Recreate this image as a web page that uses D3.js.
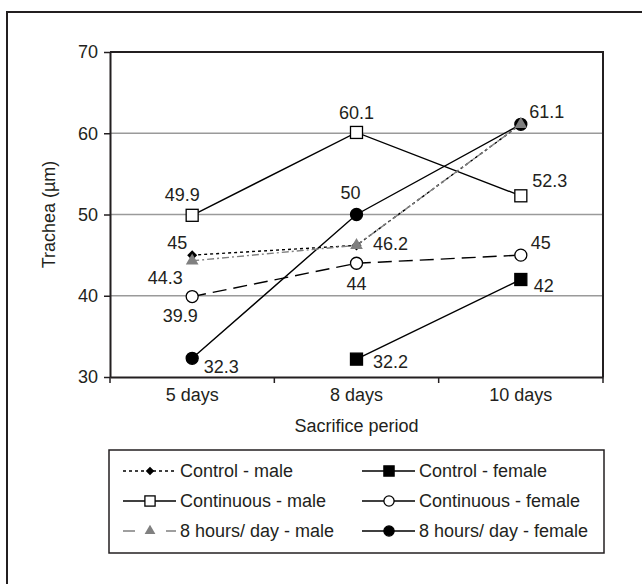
<!DOCTYPE html>
<html>
<head>
<meta charset="utf-8">
<script src="https://cdn.jsdelivr.net/npm/d3@7"></script>
<style>
  body { margin: 0; background: #fff; }
  svg { display: block; font-family: "Liberation Sans", Arial, sans-serif; }
</style>
</head>
<body>
<svg id="chart" width="642" height="584"></svg>
<script>

var categories = ['5 days', '8 days', '10 days']
var yTicks = [30, 40, 50, 60, 70]

var controlMale = [45, 46.2, 61.1]
var controlFemale = [null, 32.2, 42]
var continuousMale = [49.9, 60.1, 52.3]
var continuousFemale = [39.9, 44, 45]
var hoursMale = [44.3, 46.2, 61.1]
var hoursFemale = [32.3, 50, 61.1]

var fontSize = 18

// label offsets (dx, dy) per point
var series = [
    {name: 'Control - male', values: controlMale, marker: 'diamond', fill: '#000', stroke: '#000', dash: '3,3', legendDash: '3,3', col: 0, row: 0,
     labels: [[-15, -12], null, null]},
    {name: 'Control - female', values: controlFemale, marker: 'square', fill: '#000', stroke: '#000', dash: null, legendDash: null, col: 1, row: 0,
     labels: [null, [34, 3], [23, 6]]},
    {name: 'Continuous - male', values: continuousMale, marker: 'square', fill: '#fff', stroke: '#000', dash: null, legendDash: null, col: 0, row: 1,
     labels: [[-10, -21], [0, -20], [29, -15]]},
    {name: 'Continuous - female', values: continuousFemale, marker: 'circle', fill: '#fff', stroke: '#000', dash: '14,7', legendDash: null, col: 1, row: 1,
     labels: [[-12, 19], [0, 20], [20, -12]]},
    {name: '8 hours/ day - male', values: hoursMale, marker: 'triangle', fill: '#808080', stroke: '#808080', dash: '7,3,2,3', legendDash: '12,31,10', col: 0, row: 2,
     labels: [[-27, 17], [34, -2], null]},
    {name: '8 hours/ day - female', values: hoursFemale, marker: 'circle', fill: '#000', stroke: '#000', dash: null, legendDash: null, col: 1, row: 2,
     labels: [[29, 8], [-6, -22], [26, -13]]}
]

var svg = d3.select('#chart')
var plot = {left: 110, right: 603, top: 52, bottom: 377}

// outer frame, runs off the right and bottom edges
svg.append('rect')
    .attr('x', 7).attr('y', 12).attr('width', 700).attr('height', 700)
    .attr('fill', 'none').attr('stroke', '#231f20').attr('stroke-width', 2)

var x = d3.scaleBand().domain(categories).range([plot.left, plot.right]).padding(0)
var y = d3.scaleLinear().domain([30, 70]).range([plot.bottom, plot.top])
var cx = function(i){ return x(categories[i]) + x.bandwidth() / 2 }

// gridlines
svg.append('g').selectAll('line')
    .data([40, 50, 60])
    .enter().append('line')
    .attr('x1', plot.left).attr('x2', plot.right)
    .attr('y1', function(d){ return y(d) }).attr('y2', function(d){ return y(d) })
    .attr('stroke', '#9a9a9a').attr('stroke-width', 1.5)

// plot border (top, right)
svg.append('path')
    .attr('d', 'M' + plot.left + ',' + plot.top + 'H' + plot.right + 'V' + plot.bottom)
    .attr('fill', 'none').attr('stroke', '#231f20').attr('stroke-width', 2)

// y axis
var yAxis = svg.append('g')
    .attr('transform', 'translate(' + plot.left + ',0)')
    .call(d3.axisLeft(y).tickValues(yTicks).tickSize(6).tickPadding(6).tickSizeOuter(0))
yAxis.select('.domain').attr('stroke', '#231f20').attr('stroke-width', 2)
yAxis.selectAll('.tick line').attr('stroke', '#231f20').attr('stroke-width', 1.5)
yAxis.selectAll('.tick text').attr('font-size', fontSize).attr('fill', '#231f20')
    .attr('font-family', '"Liberation Sans", Arial, sans-serif')

// x axis
var xAxis = svg.append('g')
    .attr('transform', 'translate(0,' + plot.bottom + ')')
    .call(d3.axisBottom(x).tickSize(0).tickPadding(11).tickSizeOuter(0))
xAxis.select('.domain').attr('stroke', '#231f20').attr('stroke-width', 2)
xAxis.selectAll('.tick text').attr('font-size', fontSize).attr('fill', '#231f20')
    .attr('font-family', '"Liberation Sans", Arial, sans-serif')
xAxis.selectAll('.bound')
    .data(d3.range(categories.length + 1))
    .enter().append('line')
    .attr('x1', function(i){ return plot.left + i * x.bandwidth() })
    .attr('x2', function(i){ return plot.left + i * x.bandwidth() })
    .attr('y1', 0).attr('y2', 6)
    .attr('stroke', '#231f20').attr('stroke-width', 1.5)

// axis titles
svg.append('text')
    .attr('x', (plot.left + plot.right) / 2).attr('y', 432)
    .attr('text-anchor', 'middle').attr('font-size', fontSize).attr('fill', '#231f20')
    .text('Sacrifice period')
svg.append('text')
    .attr('transform', 'translate(55,' + (plot.top + plot.bottom) / 2 + ') rotate(-90)')
    .attr('text-anchor', 'middle').attr('font-size', fontSize).attr('fill', '#231f20')
    .text('Trachea (\u00b5m)')

function drawMarker(g, s, px, py, scale){
    var k = scale || 1
    if (s.marker == 'square'){
        g.append('rect')
            .attr('x', px - 6 * k).attr('y', py - 6 * k)
            .attr('width', 12 * k).attr('height', 12 * k)
            .attr('fill', s.fill).attr('stroke', '#000').attr('stroke-width', 1.3)
    } else if (s.marker == 'circle'){
        g.append('circle')
            .attr('cx', px).attr('cy', py).attr('r', 6 * k)
            .attr('fill', s.fill).attr('stroke', '#000').attr('stroke-width', 1.3)
    } else if (s.marker == 'diamond'){
        var h = 5 * k
        g.append('path')
            .attr('d', 'M0,' + (-h) + 'L' + h + ',0L0,' + h + 'L' + (-h) + ',0Z')
            .attr('transform', 'translate(' + px + ',' + py + ')')
            .attr('fill', s.fill)
    } else if (s.marker == 'triangle'){
        g.append('path')
            .attr('d', d3.symbol().type(d3.symbolTriangle).size(70 * k * k)())
            .attr('transform', 'translate(' + px + ',' + py + ')')
            .attr('fill', s.fill)
    }
}

var line = d3.line()
    .defined(function(d){ return d.v != null })
    .x(function(d){ return cx(d.i) })
    .y(function(d){ return y(d.v) })

var gLines = svg.append('g')
var gMarks = svg.append('g')
var gLabels = svg.append('g')

// draw order so the grey triangles sit over the diamonds, like the picture
var order = [3, 2, 1, 5, 0, 4]
order.forEach(function(idx){
    var s = series[idx]
    var pts = s.values.map(function(v, i){ return {v: v, i: i} })
    gLines.append('path')
        .datum(pts)
        .attr('d', line)
        .attr('fill', 'none')
        .attr('stroke', s.stroke)
        .attr('stroke-width', 1.4)
        .attr('stroke-dasharray', s.dash)
    pts.forEach(function(p){
        if (p.v == null) return
        drawMarker(gMarks, s, cx(p.i), y(p.v))
        var off = s.labels[p.i]
        if (off){
            gLabels.append('text')
                .attr('x', cx(p.i) + off[0]).attr('y', y(p.v) + off[1])
                .attr('dy', '0.35em')
                .attr('text-anchor', 'middle')
                .attr('font-size', fontSize).attr('fill', '#231f20')
                .text(p.v)
        }
    })
})

// legend
var legend = svg.append('g')
legend.append('rect')
    .attr('x', 109).attr('y', 450).attr('width', 495).attr('height', 103)
    .attr('fill', '#fff').attr('stroke', '#231f20').attr('stroke-width', 1.5)

var colX = [123, 362]
series.forEach(function(s){
    var lx = colX[s.col]
    var ly = 471 + s.row * 30
    legend.append('line')
        .attr('x1', lx).attr('x2', lx + 53).attr('y1', ly).attr('y2', ly)
        .attr('stroke', s.stroke).attr('stroke-width', 1.4)
        .attr('stroke-dasharray', s.legendDash)
    drawMarker(legend, s, lx + 27, ly, 0.85)
    legend.append('text')
        .attr('x', lx + 57).attr('y', ly).attr('dy', '0.35em')
        .attr('font-size', fontSize).attr('fill', '#231f20')
        .text(s.name)
})
</script>
</body>
</html>
